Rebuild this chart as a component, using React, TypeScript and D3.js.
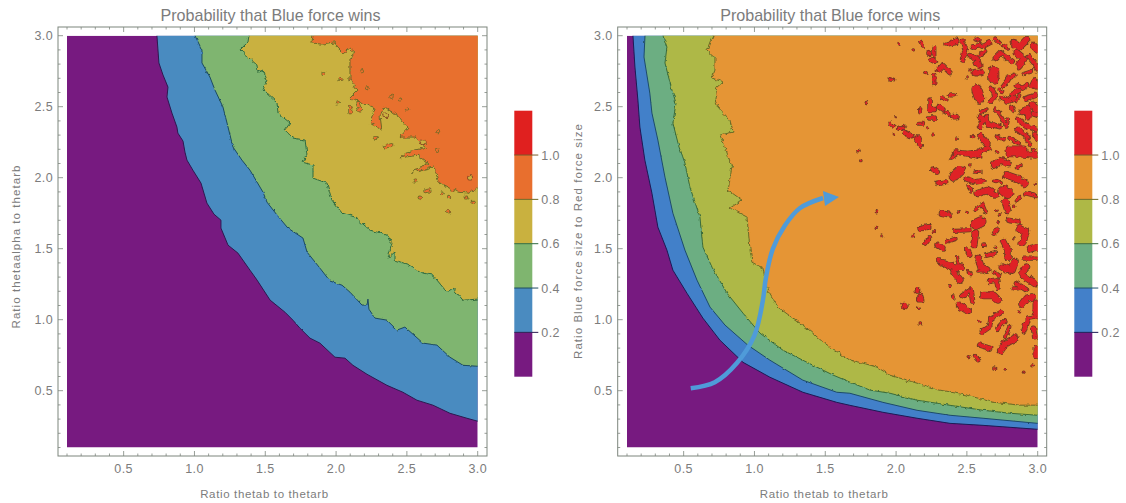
import React from "react";
import * as d3 from "d3";

type P = [number, number];

const xMajor = [0.5, 1.0, 1.5, 2.0, 2.5, 3.0];
const allTicks = d3.range(1, 31).map((d) => d / 10);
const barTicks = [0.2, 0.4, 0.6, 0.8, 1.0];

const title = "Probability that Blue force wins";
const xLabel = "Ratio thetab to thetarb";
const yLabelLeft = "Ratio thetaalpha to thetarb";
const yLabelRight = "Ratio Blue force size to Red force size";

const coloursLeft = ["#771a80", "#4a8bc0", "#7fb56f", "#c9b13f", "#e86f2e", "#e0201f"];
const coloursRight = ["#771a80", "#4380c9", "#6cae82", "#aeb846", "#e59534", "#df2428"];
const linesLeft = ["#2c1a50", "#1c4a60", "#2f6a3f", "#6d6a25", "#8a4a22"];
const linesRight = ["#1c1a55", "#1d4b6a", "#3a6a3a", "#6a6a25", "#7a5a28"];
const roughLeft = [1.5, 2.5, 4.5, 6];
const roughRight = [1.2, 1.8, 3, 4.5];
const roughScales = [1.2, 1.5, 1.8, 2.5, 3, 4.5, 6];

const left02: P[] = [[.735,3],[.749,2.808],[.778,2.723],[.813,2.638],[.806,2.568],[.841,2.455],[.876,2.357],[.883,2.314],[.919,2.258],[.933,2.18],[.947,2.124],[.989,2.053],[1.046,1.962],[1.088,1.821],[1.138,1.743],[1.187,1.701],[1.187,1.645],[1.237,1.525],[1.307,1.469],[1.392,1.349],[1.442,1.279],[1.534,1.138],[1.639,1.053],[1.696,.996],[1.745,.94],[1.816,.87],[1.886,.835],[1.992,.736],[2.063,.729],[2.119,.679],[2.218,.616],[2.359,.538],[2.472,.489],[2.571,.433],[2.684,.398],[2.804,.341],[2.924,.306],[3,.285]];
const left04: P[] = [[1.004,3],[1.053,2.899],[1.053,2.808],[1.109,2.709],[1.145,2.617],[1.201,2.498],[1.23,2.385],[1.272,2.216],[1.335,2.124],[1.392,2.053],[1.484,1.898],[1.512,1.828],[1.583,1.737],[1.66,1.645],[1.766,1.575],[1.795,1.476],[1.886,1.363],[1.957,1.272],[2.042,1.243],[2.098,1.194],[2.183,1.103],[2.218,1.103],[2.225,1.145],[2.232,1.074],[2.275,1.011],[2.359,.997],[2.43,.927],[2.486,.948],[2.614,.835],[2.712,.821],[2.804,.736],[2.896,.679],[3,.672]];
const left06: P[] = [[1.385,3],[1.378,2.956],[1.321,2.899],[1.441,2.794],[1.449,2.744],[1.484,2.758],[1.512,2.688],[1.484,2.617],[1.583,2.526],[1.59,2.455],[1.675,2.385],[1.639,2.335],[1.696,2.279],[1.781,2.265],[1.795,2.159],[1.759,2.11],[1.837,2.089],[1.837,1.997],[1.936,1.962],[1.971,1.842],[2.042,1.751],[2.133,1.723],[2.239,1.631],[2.359,1.596],[2.395,1.539],[2.366,1.433],[2.416,1.476],[2.416,1.419],[2.522,1.384],[2.614,1.328],[2.684,1.314],[2.782,1.194],[2.825,1.222],[2.896,1.137],[3,1.145]];
const left08: P[] = [[1.837,3],[1.83,2.949],[1.9,2.941],[1.992,2.956],[2.006,2.92],[2.049,2.878],[2.098,2.913],[2.133,2.885],[2.098,2.829],[2.098,2.688],[2.154,2.617],[2.098,2.561],[2.218,2.512],[2.275,2.49],[2.239,2.392],[2.324,2.335],[2.31,2.441],[2.345,2.498],[2.451,2.42],[2.508,2.35],[2.451,2.286],[2.557,2.286],[2.642,2.216],[2.5,2.18],[2.451,2.138],[2.571,2.159],[2.649,2.103],[2.536,2.039],[2.684,2.075],[2.733,1.962],[2.853,1.899],[2.931,1.892],[3,1.927]];

const leftIslands: P[][] = [[[1.91,2.73]],[[2.03,2.695]],[[2.18,2.75]],[[2.22,2.63]],[[2.01,2.53]],[[2.1,2.5],[2.1,2.46]],[[2.15,2.53],[2.17,2.48]],[[2.39,2.57]],[[2.45,2.55]],[[2.5,2.48]],[[2.72,2.32]],[[2.345,2.215],[2.39,2.23]],[[2.28,2.28]],[[2.71,2.195]],[[2.56,1.98]],[[2.59,1.86]],[[2.63,1.905],[2.66,1.91]],[[2.75,1.89]],[[2.79,1.865]],[[2.92,1.86]],[[2.97,1.83]],[[2.79,1.76]]];
const leftHoles: P[][] = [[[2.345,2.44]],[[2.945,2.0]],[[2.61,2.25]]];

const right02: P[] = [[.142,3],[.156,2.78],[.177,2.547],[.191,2.357],[.226,2.124],[.276,1.891],[.318,1.652],[.382,1.49],[.424,1.349],[.523,1.187],[.636,1.011],[.756,.856],[.919,.7],[1.109,.595],[1.342,.489],[1.581,.418],[1.674,.397],[1.907,.348],[2.148,.306],[2.381,.27],[2.614,.256],[3,.228]];
const right04: P[] = [[.227,3],[.22,2.85],[.261,2.596],[.276,2.455],[.318,2.265],[.368,2.004],[.424,1.75],[.509,1.49],[.594,1.279],[.686,1.089],[.792,.962],[.954,.82],[1.109,.715],[1.342,.574],[1.581,.489],[1.674,.482],[1.907,.418],[2.148,.362],[2.381,.327],[2.614,.306],[3,.27]];
const right06: P[] = [[.354,3],[.382,2.92],[.368,2.808],[.417,2.617],[.446,2.526],[.424,2.385],[.46,2.244],[.509,2.103],[.544,1.934],[.615,1.723],[.636,1.511],[.7,1.37],[.806,1.187],[.919,1.046],[1.039,.905],[1.201,.785],[1.371,.7],[1.555,.61],[1.674,.56],[1.816,.504],[1.957,.482],[2.148,.433],[2.381,.397],[2.614,.362],[2.804,.341],[3,.327]];
const right08: P[] = [[.707,3],[.686,2.956],[.665,2.899],[.721,2.85],[.721,2.758],[.7,2.702],[.778,2.674],[.735,2.638],[.721,2.547],[.742,2.498],[.827,2.406],[.848,2.321],[.756,2.3],[.792,2.216],[.841,2.075],[.813,1.913],[.912,1.842],[.827,1.786],[.947,1.723],[.968,1.504],[.982,1.405],[1.06,1.363],[1.088,1.222],[1.166,1.088],[1.272,1.011],[1.371,.941],[1.484,.842],[1.674,.715],[1.766,.694],[1.865,.666],[1.957,.609],[2.148,.553],[2.31,.504],[2.501,.468],[2.684,.419],[2.875,.398],[3,.398]];

const redTiny: P[][] = [[[1.79,2.53]],[[1.73,2.19]],[[1.75,2.12]],[[1.86,1.76]],[[1.86,1.65]],[[1.9,1.59]],[[2.02,2.94]],[[2.12,2.9]],[[2.21,2.74]],[[2.5,2.71]],[[2.52,2.76]],[[2.0,2.43]],[[2.06,2.37]],[[2.22,2.35]],[[2.26,2.3]],[[1.98,2.3]],[[2.54,2.29]],[[2.71,2.18]],[[2.43,2.28]],[[2.52,2.09]],[[2.83,1.8]],[[2.99,1.96]],[[2.44,1.76]],[[2.5,1.755]],[[2.71,1.77]],[[2.73,1.74]],[[2.72,1.69]],[[2.12,1.59]],[[2.27,1.62]],[[2.7,1.51]],[[2.83,1.57]],[[2.51,1.34]],[[2.16,1.08]],[[2.17,.97]],[[2.38,1.24]],[[2.59,.985]],[[2.51,.74]],[[2.69,.66]],[[2.71,.65]],[[2.77,.645]],[[2.9,.63]],[[2.96,.675]],[[2.87,1.055]]];
const redSmall: P[][] = [[[2.17,2.96],[2.19,2.93]],[[2.22,2.88],[2.24,2.87]],[[2.27,2.92],[2.27,2.85]],[[1.96,2.69],[1.98,2.69]],[[2.27,2.72],[2.27,2.66]],[[2.38,2.58],[2.41,2.58]],[[2.32,2.56],[2.35,2.55]],[[2.17,2.49],[2.17,2.46]],[[1.96,2.38],[1.98,2.36]],[[2.02,2.35],[2.05,2.35]],[[2.16,2.38],[2.19,2.38]],[[2.35,2.46],[2.37,2.45]],[[2.56,2.98],[2.59,2.97]],[[2.7,2.98],[2.73,2.95]],[[2.76,2.93],[2.79,2.91]],[[2.59,2.86],[2.63,2.89]],[[2.9,2.73],[2.96,2.75]],[[2.73,2.62],[2.75,2.61]],[[2.85,2.54],[2.87,2.58]],[[2.81,2.5],[2.83,2.47]],[[2.6,2.46],[2.64,2.48]],[[2.7,2.48],[2.73,2.45],[2.77,2.38]],[[2.79,2.41],[2.78,2.36]],[[2.71,2.29],[2.76,2.27]],[[2.8,2.28],[2.87,2.24]],[[2.92,2.27],[2.95,2.23]],[[2.39,2.14],[2.45,2.18]],[[2.56,2.04],[2.59,2.04]],[[2.51,1.94],[2.53,1.91]],[[2.69,1.98],[2.74,1.97]],[[2.86,2.07],[2.88,2.09]],[[2.85,1.84],[2.87,1.86]],[[2.91,1.89],[2.99,1.87]],[[2.56,1.78],[2.61,1.81],[2.63,1.76]],[[2.24,1.58],[2.2,1.53]],[[2.41,1.625],[2.52,1.63]],[[2.36,1.55],[2.42,1.57]],[[2.9,1.43],[2.99,1.43]],[[2.43,1.44],[2.44,1.4]],[[2.77,.88],[2.8,.95]],[[2.69,1.34],[2.73,1.31]],[[2.77,1.34],[2.8,1.35]],[[2.58,1.345],[2.64,1.35]],[[2.83,1.22],[2.87,1.22]]];
const redMedium: P[][] = [[[2.25,2.83],[2.27,2.82]],[[2.3,2.76],[2.33,2.79],[2.38,2.74]],[[2.24,2.54],[2.24,2.48],[2.27,2.48]],[[2.3,2.5],[2.33,2.48]],[[2.23,2.42],[2.27,2.42]],[[2.4,2.43],[2.43,2.43]],[[2.06,2.32],[2.11,2.29]],[[2.15,2.28],[2.17,2.23]],[[2.36,2.94],[2.41,2.95]],[[2.47,2.96],[2.49,2.9],[2.47,2.83]],[[2.54,2.92],[2.59,2.93]],[[2.62,2.93],[2.66,2.95]],[[2.52,2.86],[2.57,2.84]],[[2.58,2.82],[2.59,2.79],[2.56,2.81]],[[2.7,2.84],[2.74,2.88],[2.79,2.84],[2.82,2.82]],[[2.94,2.85],[2.99,2.79],[3,2.76]],[[2.79,2.7],[2.83,2.72]],[[2.76,2.65],[2.79,2.69]],[[2.85,2.65],[2.89,2.63],[2.92,2.65]],[[2.96,2.65],[2.98,2.69],[2.99,2.64]],[[2.67,2.63],[2.7,2.58],[2.67,2.54]],[[2.75,2.56],[2.79,2.54],[2.83,2.56]],[[2.82,2.59],[2.86,2.61]],[[2.92,2.56],[2.99,2.58]],[[2.97,2.45],[3,2.44]],[[2.59,2.43],[2.62,2.41],[2.59,2.36]],[[2.64,2.43],[2.65,2.37],[2.69,2.37],[2.73,2.36]],[[2.86,2.41],[2.93,2.36],[2.99,2.34]],[[2.86,2.34],[2.93,2.29]],[[2.98,2.31],[3,2.27]],[[2.42,2.18],[2.5,2.17],[2.59,2.18],[2.66,2.21]],[[2.97,2.19]],[[2.26,2.06],[2.29,2.04]],[[2.29,1.96],[2.35,1.97]],[[2.49,2.17],[2.54,2.16],[2.59,2.15]],[[2.5,1.99],[2.56,1.97],[2.62,1.98]],[[2.32,1.75],[2.38,1.74]],[[2.79,1.7],[2.86,1.69]],[[2.17,1.64],[2.23,1.655]],[[2.29,1.53],[2.33,1.5]],[[2.5,1.49],[2.52,1.455]],[[2.62,1.525]],[[2.69,1.61],[2.71,1.63]],[[2.64,1.455],[2.7,1.47]],[[2.3,1.42]],[[2.15,1.21]],[[2.17,1.17],[2.18,1.14],[2.16,1.14]],[[2.52,1.325]],[[2.4,1.16]],[[2.47,1.17],[2.53,1.21],[2.54,1.13]],[[2.66,1.27],[2.71,1.28],[2.72,1.23]],[[2.61,.915],[2.66,.95],[2.67,1.01],[2.74,1.05]],[[2.72,.94],[2.76,.985]],[[2.59,.82],[2.66,.8]],[[2.56,.74],[2.58,.72]],[[2.99,.74],[2.99,.8]],[[2.9,.915],[2.93,1.01],[2.99,1.02]],[[2.97,.94],[2.98,.88]],[[2.85,1.255],[2.92,1.21]]];
const redLarge: P[][] = [[[2.42,2.96]],[[2.83,2.95],[2.87,2.92],[2.92,2.97]],[[2.97,2.93],[3,2.9]],[[2.85,2.88],[2.9,2.84],[2.87,2.79]],[[2.56,2.74],[2.6,2.74]],[[2.96,2.51],[3,2.48]],[[2.89,2.46],[2.93,2.48],[2.93,2.43]],[[2.6,2.29],[2.64,2.24]],[[2.8,2.2],[2.9,2.2]],[[2.69,2.09],[2.74,2.12],[2.79,2.1]],[[2.78,2.02],[2.85,1.995],[2.91,1.96]],[[2.8,2.17],[2.87,2.17],[2.98,2.16]],[[2.58,1.89],[2.64,1.91],[2.7,1.88]],[[2.77,1.83],[2.79,1.77]],[[2.56,1.61],[2.55,1.53]],[[2.76,1.55],[2.79,1.49],[2.79,1.44]],[[2.87,1.64],[2.92,1.62],[2.89,1.54]],[[2.95,1.5],[2.99,1.51]],[[2.33,1.4],[2.41,1.37],[2.46,1.37]],[[2.58,1.43],[2.6,1.37],[2.64,1.35]],[[2.75,1.37],[2.82,1.35],[2.84,1.41]],[[2.92,1.37],[2.89,1.33]],[[2.06,1.1]],[[2.41,1.33],[2.45,1.28]],[[2.45,1.1],[2.51,1.06]],[[2.62,1.17],[2.69,1.17],[2.72,1.14]],[[2.74,.785],[2.77,.83],[2.84,.87]],[[2.89,1.11],[2.92,1.15],[2.96,1.16]],[[2.9,1.31],[2.98,1.255]],[[2.99,1.115],[2.99,1.055]]];
const redHuge: P[][] = [[[2.69,2.75],[2.69,2.7]],[[2.57,2.62],[2.59,2.56]],[[2.76,1.91],[2.79,1.89]],[[2.41,2.01],[2.45,2.05]],[[2.56,1.67],[2.6,1.69]]];

const arrowPath: P[] = [[.55,.517],[.72,.56],[.876,.695],[1.0,.89],[1.06,1.14],[1.08,1.29],[1.13,1.5],[1.216,1.665],[1.32,1.785],[1.484,1.857]];
const arrowHead: P[] = [[1.597,1.864],[1.484,1.906],[1.498,1.8]];

const TEXT = "#7c7c7c";
const FRAME = "#7d857d";
const FONT = "'Liberation Sans', Arial, sans-serif";
const PLOT_TOP = 35.7;
const PLOT_BOTTOM = 447.5;

function Panel(props: {
  id: string;
  frameLeft: number;
  plotLeft: number;
  barLeft: number;
  levels: P[][];
  rough: number[];
  colours: string[];
  lineColours: string[];
  yLabel: string;
  yLabelX: number;
  yLabelMid: number;
  under?: (x: d3.ScaleLinear<number, number>, y: d3.ScaleLinear<number, number>) => React.ReactNode;
  over?: (x: d3.ScaleLinear<number, number>, y: d3.ScaleLinear<number, number>) => React.ReactNode;
}) {
  const { id, frameLeft, plotLeft, barLeft, levels, rough, colours, lineColours, yLabel, yLabelX, yLabelMid, under, over } = props;
  const frameRight = frameLeft + 429;
  const frameTop = 27;
  const frameBottom = 456;
  const x = d3.scaleLinear().domain([0.1, 3]).range([plotLeft, plotLeft + 410.7]);
  const y = d3.scaleLinear().domain([0.1, 3]).range([PLOT_BOTTOM, PLOT_TOP]);
  const line = d3.line<P>().x((d) => x(d[0])).y((d) => y(d[1]));
  const bar = d3.scaleLinear().domain([0, 1.2]).range([376.7, 110.7]);
  const barStops = [0, ...barTicks, 1.2];
  const cx = (frameLeft + frameRight) / 2;
  const extended = (pts: P[]): P[] => [
    [pts[0][0], 3.1],
    ...pts,
    [3.1, pts[pts.length - 1][1]],
  ];
  return (
    <g fontFamily={FONT} fill={TEXT}>
      <text x={cx - 2} y={21} textAnchor="middle" fontSize={16.1}>{title}</text>
      <clipPath id={id}>
        <rect x={x(0.1)} y={y(3)} width={x(3) - x(0.1)} height={y(0.1) - y(3)} />
      </clipPath>
      <g clipPath={`url(#${id})`}>
        <rect x={x(0.1)} y={y(3)} width={x(3) - x(0.1)} height={y(0.1) - y(3)} fill={colours[0]} />
        {levels.map((pts, i) => (
          <g key={i} filter={`url(#rough${rough[i]})`}>
            <path d={line([...extended(pts), [3.1, 3.1]])! + "Z"} fill={colours[i + 1]} stroke={lineColours[i]} strokeWidth={1} strokeLinejoin="round" />
          </g>
        ))}
        {under && under(x, y)}
      </g>
      {over && over(x, y)}
      <rect x={frameLeft} y={frameTop} width={frameRight - frameLeft} height={frameBottom - frameTop} fill="none" stroke={FRAME} strokeWidth={1} />
      {allTicks.map((t) => {
        const major = xMajor.includes(t);
        const len = major ? 5 : 2.5;
        return (
          <g key={t} stroke={FRAME} strokeWidth={0.8}>
            <line x1={x(t)} x2={x(t)} y1={frameBottom} y2={frameBottom - len} />
            <line x1={x(t)} x2={x(t)} y1={frameTop} y2={frameTop + len} />
            <line y1={y(t)} y2={y(t)} x1={frameLeft} x2={frameLeft + len} />
            <line y1={y(t)} y2={y(t)} x1={frameRight} x2={frameRight - len} />
          </g>
        );
      })}
      {xMajor.map((t) => (
        <g key={t} fontSize={12.5} letterSpacing={0.4}>
          <text x={x(t)} y={473} textAnchor="middle">{t.toFixed(1)}</text>
          <text x={frameLeft - 5} y={y(t) + 4} textAnchor="end">{t.toFixed(1)}</text>
        </g>
      ))}
      <text x={cx - 8} y={498} textAnchor="middle" fontSize={11.5} letterSpacing={0.65}>{xLabel}</text>
      <text transform={`translate(${yLabelX},${yLabelMid}) rotate(-90)`} textAnchor="middle" fontSize={11.5} letterSpacing={1.05}>{yLabel}</text>
      {barStops.slice(0, -1).map((v, i) => (
        <rect key={v} x={barLeft} width={18} y={bar(barStops[i + 1])} height={bar(v) - bar(barStops[i + 1])} fill={colours[i]} />
      ))}
      {barTicks.map((t, i) => (
        <g key={t}>
          <line x1={barLeft} x2={barLeft + 24} y1={bar(t)} y2={bar(t)} stroke={i === 4 ? "#7a5a28" : lineColours[i]} strokeWidth={1} />
          <text x={barLeft + 27} y={bar(t) + 4.5} fontSize={12.5} letterSpacing={0.4}>{t.toFixed(1)}</text>
        </g>
      ))}
    </g>
  );
}

function Islands(props: {
  groups: { items: P[][]; width: number }[];
  x: d3.ScaleLinear<number, number>;
  y: d3.ScaleLinear<number, number>;
  fill: string;
  edge: string;
}) {
  const { groups, x, y, fill, edge } = props;
  const line = d3.line<P>().x((d) => x(d[0])).y((d) => y(d[1])).curve(d3.curveLinear);
  const dot = (p: P[]) => (p.length === 1 ? line([p[0], [p[0][0] + 0.002, p[0][1]]])! : line(p)!);
  return (
    <g fill="none" strokeLinecap="round" strokeLinejoin="round" filter="url(#rough4.5)">
      {groups.map((g, gi) =>
        g.items.map((p, i) => <path key={`e${gi}-${i}`} d={dot(p)} stroke={edge} strokeWidth={g.width + 1.6} />)
      )}
      {groups.map((g, gi) =>
        g.items.map((p, i) => <path key={`f${gi}-${i}`} d={dot(p)} stroke={fill} strokeWidth={g.width} />)
      )}
    </g>
  );
}

export default function App() {
  return (
    <svg width={1126} height={503} style={{ position: "absolute", left: 0, top: 0, background: "#fff" }}>
      <defs>
        {roughScales.map((s) => (
          <filter key={s} id={`rough${s}`} filterUnits="userSpaceOnUse" x={0} y={0} width={1126} height={503}>
            <feTurbulence type="fractalNoise" baseFrequency={0.22} numOctaves={2} seed={7} result="n" />
            <feDisplacementMap in="SourceGraphic" in2="n" scale={s} xChannelSelector="R" yChannelSelector="G" result="d" />
            <feGaussianBlur in="d" stdDeviation={0.35} />
          </filter>
        ))}
      </defs>
      <Panel
        id="clipLeft"
        frameLeft={58}
        plotLeft={67}
        barLeft={514.3}
        levels={[left02, left04, left06, left08]}
        rough={roughLeft}
        colours={coloursLeft}
        lineColours={linesLeft}
        yLabel={yLabelLeft}
        yLabelX={20}
        yLabelMid={246.5}
        under={(x, y) => (
          <g>
            <Islands groups={[{ items: leftIslands, width: 2.4 }]} x={x} y={y} fill={coloursLeft[4]} edge={linesLeft[3]} />
            <Islands groups={[{ items: leftHoles, width: 4 }]} x={x} y={y} fill={coloursLeft[3]} edge={linesLeft[4]} />
          </g>
        )}
      />
      <Panel
        id="clipRight"
        frameLeft={617.7}
        plotLeft={627}
        barLeft={1074.3}
        levels={[right02, right04, right06, right08]}
        rough={roughRight}
        colours={coloursRight}
        lineColours={linesRight}
        yLabel={yLabelRight}
        yLabelX={582}
        yLabelMid={241}
        under={(x, y) => (
          <Islands
            groups={[
              { items: redTiny, width: 1.8 },
              { items: redSmall, width: 2.6 },
              { items: redMedium, width: 4 },
              { items: redLarge, width: 6 },
              { items: redHuge, width: 9.5 },
            ]}
            x={x}
            y={y}
            fill={coloursRight[5]}
            edge="#6a3a22"
          />
        )}
        over={(x, y) => {
          const arrow = d3.line<P>().x((d) => x(d[0])).y((d) => y(d[1])).curve(d3.curveCatmullRom);
          const head = d3.line<P>().x((d) => x(d[0])).y((d) => y(d[1]));
          return (
            <g>
              <path d={arrow(arrowPath)!} fill="none" stroke="#4f9bd9" strokeWidth={4.5} />
              <path d={head(arrowHead)! + "Z"} fill="#4f9bd9" />
            </g>
          );
        }}
      />
    </svg>
  );
}
